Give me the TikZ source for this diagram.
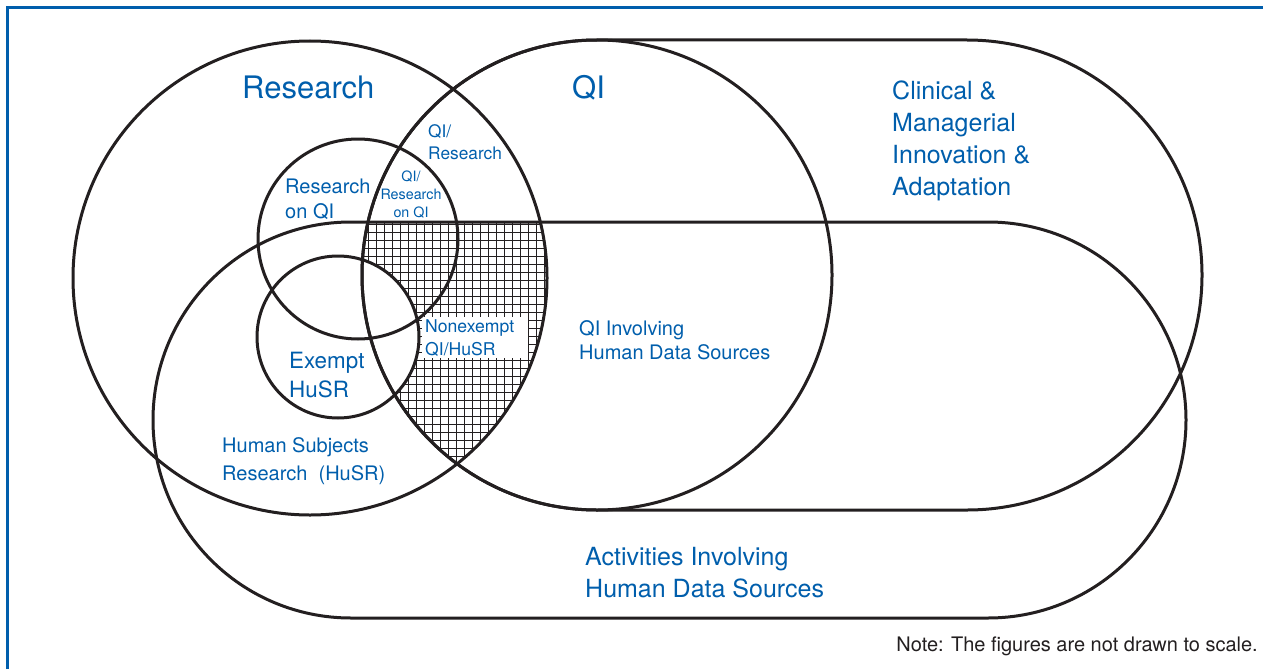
\documentclass[tikz,border=0pt]{standalone}
\usepackage{fontspec}
\setmainfont{TeX Gyre Heros}
\usetikzlibrary{positioning}
\definecolor{ahrqblue}{RGB}{0,94,172}
\definecolor{inkblack}{RGB}{35,31,32}

\begin{document}
\begin{tikzpicture}[x=1pt,y=-1pt,
	ring/.style={draw=inkblack, line width=3pt},
	lbl/.style={text=ahrqblue, inner sep=0pt, align=left, anchor=base west}]
	\useasboundingbox (0,0) rectangle (1263,669);
	\draw[ahrqblue, line width=2.5pt] (7.5,669) -- (7.5,7.5) -- (1263,7.5);

	% hatch: QI and Research and human data sources
	\begin{scope}
		\clip (597,275) circle (235);
		\clip (310,278) circle (237);
		\clip (300,222) rectangle (600,520);
		\draw[inkblack, line width=1pt] (300,222) grid[step=8pt] (600,520);
	\end{scope}
	\fill[white] (338,337) circle (81);
	\fill[white] (422,317) rectangle (528,358);

	\draw[ring] (310,278) circle (237);
	\draw[ring] (597,275) circle (235);
	\draw[ring, rounded corners=235pt] (362,40) rectangle (1202,510);
	\draw[ring, rounded corners=198pt] (153,222) rectangle (1186,618);
	\draw[ring] (358,239) circle (100);
	\draw[ring] (338,337) circle (81);

	% base of a multi-line label = its last line
	\node[lbl, font=\fontsize{31}{36}\selectfont] (research) at (242,99) {Research};
	\node[lbl, font=\fontsize{31}{36}\selectfont] (qi) at (572,99) {QI};
	\node[lbl, font=\fontsize{25}{32}\selectfont] (clinical) at (892,195) {Clinical \&\\Managerial\\Innovation \&\\Adaptation};
	\node[lbl, font=\fontsize{17.3}{22}\selectfont] (qires) at (428,159) {QI/\\Research};
	\node[lbl, font=\fontsize{20}{25}\selectfont] (resonqi) at (285,218) {Research\\on QI};
	\node[lbl, align=center, anchor=base, font=\fontsize{14.3}{18}\selectfont] (qiresonqi) at (411,217) {QI/\\Research\\on QI};
	\node[lbl, font=\fontsize{17.6}{23}\selectfont] (nonexempt) at (425,355) {Nonexempt\\QI/HuSR};
	\node[lbl, font=\fontsize{22.4}{29}\selectfont] (exempt) at (289,397) {Exempt\\HuSR};
	\node[lbl, font=\fontsize{20}{24}\selectfont] (qihuman) at (579,359) {QI Involving\\Human Data Sources};
	\node[lbl, font=\fontsize{20}{28}\selectfont] (husr) at (222,480) {Human Subjects\\Research\ \ (HuSR)};
	\node[lbl, font=\fontsize{25}{32}\selectfont] (activities) at (585,597) {Activities Involving\\Human Data Sources};
	\node[inner sep=0pt, anchor=base east, text=inkblack, font=\fontsize{20}{24}\selectfont] (note) at (1258,651) {Note: The figures are not drawn to scale.};
\end{tikzpicture}
\end{document}
